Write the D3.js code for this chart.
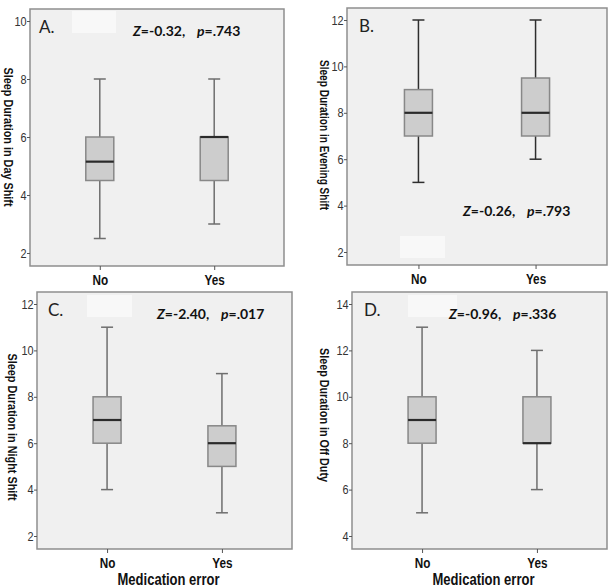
<!DOCTYPE html>
<html>
<head>
<meta charset="utf-8">
<script src="https://cdn.jsdelivr.net/npm/d3@7"></script>
<style>
  body { margin: 0; background: #fff; }
  svg { display: block; }
</style>
</head>
<body>
<script>
// Data

const categories = ["No", "Yes"]
const panelLetters = ["A.", "B.", "C.", "D."]
const yTitles = [
    "Sleep Duration in Day Shift",
    "Sleep Duration in Evening Shift",
    "Sleep Duration in Night Shift",
    "Sleep Duration in Off Duty"
]
const statZ = ["-0.32", "-0.26", "-2.40", "-0.96"]
const statP = [".743", ".793", ".017", ".336"]
const yDomains = [[2, 10], [2, 12], [2, 12], [4, 14]]
const yTickValues = [
    [2, 4, 6, 8, 10],
    [2, 4, 6, 8, 10, 12],
    [2, 4, 6, 8, 10, 12],
    [4, 6, 8, 10, 12, 14]
]
const boxMin    = [[2.5, 3], [5, 6], [4, 3],    [5, 6]]
const boxQ1     = [[4.5, 4.5], [7, 7], [6, 5],  [8, 8]]
const boxMedian = [[5.15, 6], [8, 8], [7, 6],   [9, 8]]
const boxQ3     = [[6, 6], [9, 9.5], [8, 6.75], [10, 10]]
const boxMax    = [[8, 8], [12, 12], [11, 9],   [13, 12]]
const xTitle = "Medication error"

// Layout (pixels)

let width = 609
let height = 587

let panels = [
    { x: 30,  y: 9,   w: 254, statX: 103, statY: 27,  statGap: 64, letterX: 9,  patch: [42, 2, 44, 22],  titleX: -26.5, titleY: 128, titleLen: 139, whisker: "#6e6e6e", xTitle: false },
    { x: 347, y: 8,   w: 260, statX: 116, statY: 208, statGap: 64, letterX: 12, patch: [53, 228, 45, 22], titleX: -27, titleY: 127, titleLen: 150, whisker: "#2e2e2e", xTitle: false },
    { x: 37,  y: 292, w: 255, statX: 120, statY: 27,  statGap: 64, letterX: 11, patch: [50, 3, 45, 22],   titleX: -29, titleY: 135, titleLen: 147, whisker: "#6e6e6e", xTitle: true },
    { x: 352, y: 292, w: 255, statX: 97,  statY: 27,  statGap: 64, letterX: 12, patch: [56, 3, 49, 22],   titleX: -32, titleY: 123, titleLen: 134, whisker: "#6e6e6e", xTitle: true }
]
let panelHeight = 257
let boxWidth = 28
let capWidth = 12

let narrow = "'Liberation Sans Narrow', 'Arial Narrow', 'Liberation Sans', Arial, sans-serif"
let calibri = "Lato, 'Open Sans', 'Noto Sans', sans-serif"

let svg = d3.select('body')
    .append('svg')
    .attr('width', width)
    .attr('height', height)

svg.append('rect')
    .attr('width', width)
    .attr('height', height)
    .attr('fill', '#fff')

panels.forEach((p, i) => {

    let g = svg.append('g')
        .attr('transform', `translate(${p.x}, ${p.y})`)

    // Panel background and frame
    g.append('rect')
        .attr('width', p.w)
        .attr('height', panelHeight)
        .attr('fill', '#f0f0f0')
        .attr('stroke', '#8e8e8e')
        .attr('stroke-width', 1.5)

    // faint patch seen in the source
    g.append('rect')
        .attr('x', p.patch[0])
        .attr('y', p.patch[1])
        .attr('width', p.patch[2])
        .attr('height', p.patch[3])
        .attr('fill', '#f8f8f8')

    let xScale = d3.scalePoint()
        .domain(categories)
        .range([0, p.w])
        .padding(0.61)

    let yScale = d3.scaleLinear()
        .domain(yDomains[i])
        .range([244, 12])

    // Axes
    let yAxis = g.append('g')
        .call(d3.axisLeft(yScale).tickValues(yTickValues[i]).tickSize(3).tickPadding(1).tickFormat(d3.format('d')))
    yAxis.select('.domain').remove()
    yAxis.selectAll('line').attr('stroke', '#555')
    yAxis.selectAll('text')
        .attr('font-family', narrow)
        .attr('font-size', 13)
        .attr('fill', '#333')
        .attr('transform', 'scale(0.84, 1)')

    let xAxis = g.append('g')
        .attr('transform', `translate(0, ${panelHeight})`)
        .call(d3.axisBottom(xScale).tickSize(4).tickPadding(5))
    xAxis.select('.domain').remove()
    xAxis.selectAll('line').attr('stroke', '#555')
    xAxis.selectAll('text')
        .attr('font-family', narrow)
        .attr('font-size', 14)
        .attr('font-weight', 'bold')
        .attr('fill', '#111')
        .attr('transform', 'scale(0.84, 1)')

    // Boxes
    let rows = categories.map((c, j) => ({
        cat: c,
        min: boxMin[i][j],
        q1: boxQ1[i][j],
        med: boxMedian[i][j],
        q3: boxQ3[i][j],
        max: boxMax[i][j]
    }))

    let boxes = g.selectAll('.box')
        .data(rows)
        .join('g')
        .attr('class', 'box')

    boxes.append('line')
        .attr('x1', d => xScale(d.cat))
        .attr('x2', d => xScale(d.cat))
        .attr('y1', d => yScale(d.max))
        .attr('y2', d => yScale(d.min))
        .attr('stroke', p.whisker)
        .attr('stroke-width', 1.5)

    boxes.selectAll('.cap')
        .data(d => [d.min, d.max].map(v => ({ cat: d.cat, v: v })))
        .join('line')
        .attr('class', 'cap')
        .attr('x1', d => xScale(d.cat) - capWidth / 2)
        .attr('x2', d => xScale(d.cat) + capWidth / 2)
        .attr('y1', d => yScale(d.v))
        .attr('y2', d => yScale(d.v))
        .attr('stroke', p.whisker)
        .attr('stroke-width', 1.5)

    boxes.append('rect')
        .attr('x', d => xScale(d.cat) - boxWidth / 2)
        .attr('y', d => yScale(d.q3))
        .attr('width', boxWidth)
        .attr('height', d => yScale(d.q1) - yScale(d.q3))
        .attr('fill', '#cdcdcd')
        .attr('stroke', '#888')
        .attr('stroke-width', 1.5)

    boxes.append('line')
        .attr('x1', d => xScale(d.cat) - boxWidth / 2)
        .attr('x2', d => xScale(d.cat) + boxWidth / 2)
        .attr('y1', d => yScale(d.med))
        .attr('y2', d => yScale(d.med))
        .attr('stroke', '#2a2a2a')
        .attr('stroke-width', 2.2)

    // Panel letter
    g.append('text')
        .attr('x', p.letterX)
        .attr('y', 24)
        .attr('font-family', calibri)
        .attr('font-size', 17)
        .attr('fill', '#222')
        .text(panelLetters[i])

    // Statistic
    let stat = g.append('text')
        .attr('x', p.statX)
        .attr('y', p.statY)
        .attr('font-family', calibri)
        .attr('font-size', 14)
        .attr('font-weight', 'bold')
        .attr('fill', '#111')
    stat.append('tspan').attr('font-style', 'italic').text('Z')
    stat.append('tspan').text('=' + statZ[i] + ',')
    stat.append('tspan').attr('x', p.statX + p.statGap).attr('font-style', 'italic').text('p')
    stat.append('tspan').text('=' + statP[i])

    // Y title (reads top to bottom)
    g.append('text')
        .attr('transform', `translate(${p.titleX}, ${p.titleY}) rotate(90)`)
        .attr('text-anchor', 'middle')
        .attr('font-family', narrow)
        .attr('font-size', 13)
        .attr('font-weight', 'bold')
        .attr('fill', '#111')
        .attr('textLength', p.titleLen)
        .attr('lengthAdjust', 'spacingAndGlyphs')
        .text(yTitles[i])

    if (p.xTitle) {
        g.append('text')
            .attr('x', p.w / 2 + 4)
            .attr('y', 293)
            .attr('text-anchor', 'middle')
            .attr('font-family', narrow)
            .attr('font-size', 16.5)
            .attr('font-weight', 'bold')
            .attr('fill', '#111')
            .attr('textLength', 102)
            .attr('lengthAdjust', 'spacingAndGlyphs')
            .text(xTitle)
    }
})
</script>
</body>
</html>
